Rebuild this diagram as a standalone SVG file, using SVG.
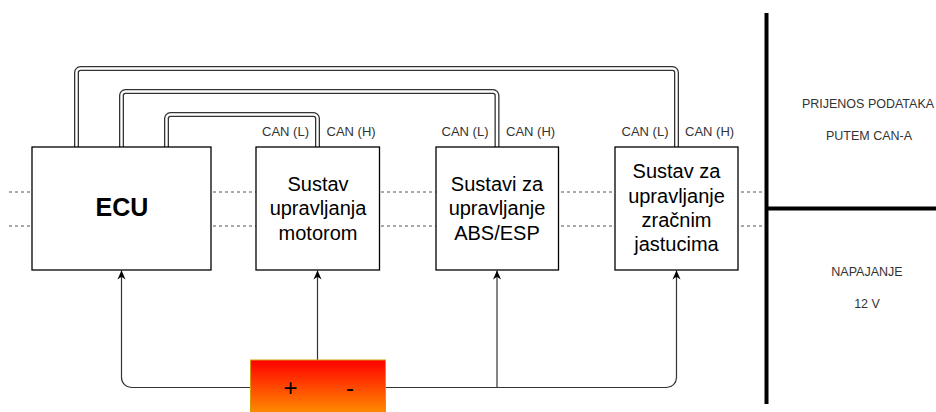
<svg xmlns="http://www.w3.org/2000/svg" width="936" height="412" viewBox="0 0 936 412">
<style>
.box{fill:#fff;stroke:#000;stroke-width:1.3}
.t{font-family:"Liberation Sans",Arial,sans-serif;font-size:20px;fill:#000;text-anchor:middle}
.can{font-family:"Liberation Sans",Arial,sans-serif;font-size:13px;fill:#333}
.lbl{font-family:"Liberation Sans",Arial,sans-serif;font-size:12.5px;fill:#333;text-anchor:middle}
.dash{stroke:#555;stroke-width:1;stroke-dasharray:3 3;fill:none}
.wo{fill:none;stroke:#333;stroke-width:5;stroke-linejoin:round}
.wi{fill:none;stroke:#fff;stroke-width:2.4;stroke-linejoin:round}
.pw{fill:none;stroke:#333;stroke-width:1.2}
.thick{stroke:#000;stroke-width:4;fill:none}
</style>
<defs>
<marker id="arr" viewBox="0 0 10 10" refX="10" refY="5" markerWidth="10" markerHeight="9" markerUnits="userSpaceOnUse" orient="auto">
<path d="M0,0.5 L10,5 L0,9.5 L3,5 Z" fill="#000"/>
</marker>
<linearGradient id="bat" x1="0" y1="0" x2="0" y2="1">
<stop offset="0" stop-color="#ff0000"/>
<stop offset="1" stop-color="#ff9900"/>
</linearGradient>
</defs>
<rect width="936" height="412" fill="#fff"/>
<g id="separators">
<line class="thick" x1="766.5" y1="13" x2="766.5" y2="404"/>
<line class="thick" x1="766.5" y1="208.5" x2="936" y2="208.5"/>
<line class="dash" x1="9" y1="192" x2="762" y2="192"/>
<line class="dash" x1="9" y1="226" x2="762" y2="226"/>
</g>
<g id="connectors">
<path class="wo" d="M166.5,147 V118.5 A4,4 0 0 1 170.5,114.5 H313.5 A4,4 0 0 1 317.5,118.5 V147"/>
<path class="wi" d="M166.5,147 V118.5 A4,4 0 0 1 170.5,114.5 H313.5 A4,4 0 0 1 317.5,118.5 V147"/>
<path class="wo" d="M121.5,147 V95.5 A4,4 0 0 1 125.5,91.5 H493 A4,4 0 0 1 497,95.5 V147"/>
<path class="wi" d="M121.5,147 V95.5 A4,4 0 0 1 125.5,91.5 H493 A4,4 0 0 1 497,95.5 V147"/>
<path class="wo" d="M76.5,147 V72.5 A4,4 0 0 1 80.5,68.5 H672.5 A4,4 0 0 1 676.5,72.5 V147"/>
<path class="wi" d="M76.5,147 V72.5 A4,4 0 0 1 80.5,68.5 H672.5 A4,4 0 0 1 676.5,72.5 V147"/>
<path class="pw" d="M251,387.5 H131.5 A10,10 0 0 1 121.5,377.5 V270.5" marker-end="url(#arr)"/>
<path class="pw" d="M317.5,360 V270.5" marker-end="url(#arr)"/>
<path class="pw" d="M385,387.5 H666.5 A10,10 0 0 0 676.5,377.5 V270.5" marker-end="url(#arr)"/>
<path class="pw" d="M497,387.5 V270.5" marker-end="url(#arr)"/>
</g>
<g id="ecu">
<rect class="box" x="32" y="147" width="179" height="123"/>
<text class="t" x="122" y="216" style="font-weight:bold;font-size:25px">ECU</text>
</g>
<g id="motor">
<rect class="box" x="256" y="147" width="123.5" height="123"/>
<text class="t" x="318" y="190.5">Sustav</text>
<text class="t" x="318" y="215">upravljanja</text>
<text class="t" x="318" y="239.5">motorom</text>
<text class="can" x="309" y="136" text-anchor="end">CAN (L)</text>
<text class="can" x="326.5" y="136">CAN (H)</text>
</g>
<g id="abs">
<rect class="box" x="436" y="147" width="122.5" height="123"/>
<text class="t" x="497" y="190.5">Sustavi za</text>
<text class="t" x="497" y="215">upravljanje</text>
<text class="t" x="497" y="239.5">ABS/ESP</text>
<text class="can" x="488.5" y="136" text-anchor="end">CAN (L)</text>
<text class="can" x="506" y="136">CAN (H)</text>
</g>
<g id="airbag">
<rect class="box" x="615" y="147" width="123" height="123"/>
<text class="t" x="676.5" y="178">Sustav za</text>
<text class="t" x="676.5" y="202.5">upravljanje</text>
<text class="t" x="676.5" y="227">zračnim</text>
<text class="t" x="676.5" y="251">jastucima</text>
<text class="can" x="668.5" y="136" text-anchor="end">CAN (L)</text>
<text class="can" x="685" y="136">CAN (H)</text>
</g>
<g id="battery">
<rect x="250.5" y="360" width="135" height="58" fill="url(#bat)" stroke="#d79b00" stroke-width="1"/>
<text class="t" x="290.5" y="395.5" style="font-size:24px">+</text>
<text class="t" x="350" y="395.5" style="font-size:24px">-</text>
</g>
<g id="labels">
<text class="lbl" x="868" y="108">PRIJENOS PODATAKA</text>
<text class="lbl" x="869" y="140">PUTEM CAN-A</text>
<text class="lbl" x="867" y="276">NAPAJANJE</text>
<text class="lbl" x="867" y="308">12 V</text>
</g>
</svg>
